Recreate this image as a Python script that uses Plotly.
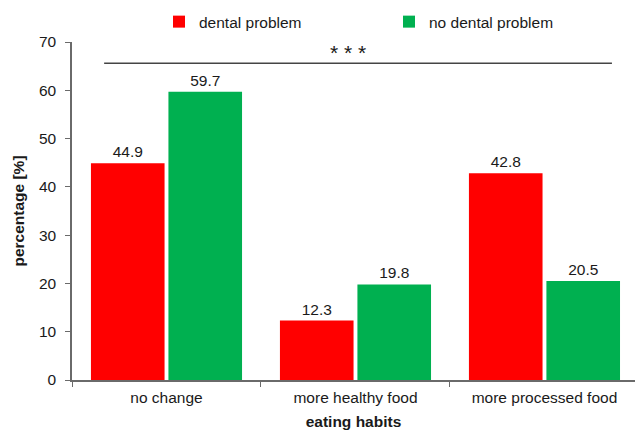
import plotly.graph_objects as go

# Eating habits vs. dental problems (percentages per group)
categories = ["no change", "more healthy food", "more processed food"]
dental_problem = [44.9, 12.3, 42.8]
no_dental_problem = [59.7, 19.8, 20.5]
series_names = ["dental problem", "no dental problem"]
y_ticks = [0, 10, 20, 30, 40, 50, 60, 70]
significance = "* * *"

RED = "#FF0000"
GREEN = "#00B050"
FONT = "Liberation Sans, Arial, sans-serif"
TXT = "#1a1a1a"
AXIS = "#6a6a6a"

fig = go.Figure()
for name, vals, col in [(series_names[0], dental_problem, RED),
                        (series_names[1], no_dental_problem, GREEN)]:
    fig.add_trace(go.Bar(
        name=name, x=categories, y=vals,
        marker=dict(color=col, line=dict(width=0)),
        text=[f"{v:.1f}" for v in vals], textposition="outside",
        textfont=dict(family=FONT, size=15.5, color=TXT),
        cliponaxis=False,
    ))

# significance bracket across all groups
fig.add_shape(type="line", xref="x", yref="y", x0=-0.33, x1=2.357, y0=65.6, y1=65.6,
              line=dict(color="#444444", width=1.3))
fig.add_annotation(x=0.96, y=65.6, xref="x", yref="y", text=significance, showarrow=False,
                   yanchor="bottom", yshift=-3, font=dict(family=FONT, size=21, color=TXT))

fig.update_layout(
    width=635, height=430,
    margin=dict(l=72, r=0, t=42, b=50, autoexpand=False),
    paper_bgcolor="white", plot_bgcolor="white",
    barmode="group", bargap=0.18, bargroupgap=0.05,
    font=dict(family=FONT, size=15.5, color=TXT),
    showlegend=True,
    legend=dict(orientation="h", x=0.1545, xanchor="left", y=1.059, yanchor="middle",
                entrywidth=185, entrywidthmode="pixels",
                font=dict(family=FONT, size=15.5, color=TXT), bgcolor="rgba(0,0,0,0)"),
    xaxis=dict(
        range=[-0.5, 2.479], tickson="boundaries", ticks="outside", ticklen=5,
        tickcolor=AXIS, tickwidth=1.3, ticklabelstandoff=3,
        showline=True, linecolor=AXIS, linewidth=1.5, showgrid=False, zeroline=False,
        tickfont=dict(family=FONT, size=15.5, color=TXT),
        title=dict(text="<b>eating habits</b>", standoff=12,
                   font=dict(family=FONT, size=15.5, color=TXT)),
    ),
    yaxis=dict(
        range=[0, 70], tickvals=y_ticks, ticks="outside", ticklen=5,
        tickcolor=AXIS, tickwidth=1.3, ticklabelstandoff=6,
        showline=True, linecolor=AXIS, linewidth=1.5, showgrid=False, zeroline=False,
        tickfont=dict(family=FONT, size=15.5, color=TXT),
        title=dict(text="<b>percentage [%]</b>", standoff=10,
                   font=dict(family=FONT, size=15.5, color=TXT)),
    ),
)

fig.write_html("out.html")
